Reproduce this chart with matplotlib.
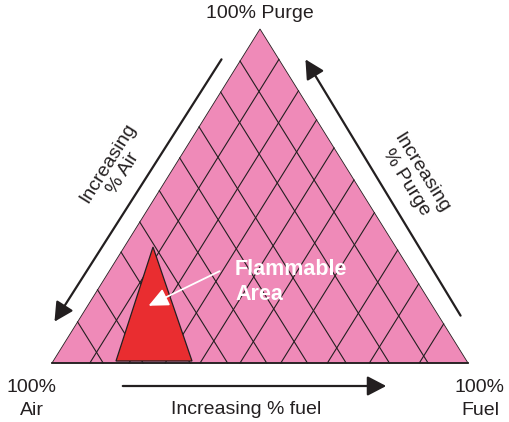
import matplotlib.pyplot as plt
from matplotlib.patches import Polygon

plt.rcParams['font.family'] = ['Liberation Sans', 'DejaVu Sans']

# triangle corners (pixel-like units, y pointing down)
corners_x = [52, 468, 260]
corners_y = [363, 363, 29]

# grid lines: fraction along the left and right edges where they start
left_edge_fracs = [0.904, 0.811, 0.707, 0.614, 0.516, 0.422, 0.332, 0.219, 0.123]
right_edge_fracs = [0.909, 0.815, 0.728, 0.644, 0.548, 0.450, 0.338, 0.237, 0.117]

# flammable region
flam_x = [116, 192, 153]
flam_y = [361, 361, 247]

ink = '#231f20'

fig = plt.figure(figsize=(5.09, 4.22), dpi=100)
ax = fig.add_axes([0, 0, 1, 1])
ax.set_xlim(0, 509)
ax.set_ylim(422, 0)
ax.axis('off')

bl = (corners_x[0], corners_y[0])
br = (corners_x[1], corners_y[1])
top = (corners_x[2], corners_y[2])
width = br[0] - bl[0]

ax.add_patch(Polygon(list(zip(corners_x, corners_y)), closed=True,
                     facecolor='#ef8ab8', edgecolor=ink, lw=0.6, zorder=1))

# grid lines parallel to the right side
for t in left_edge_fracs:
    x0 = bl[0] + t * (top[0] - bl[0])
    y0 = bl[1] + t * (top[1] - bl[1])
    ax.plot([x0, bl[0] + t * width], [y0, bl[1]], color=ink, lw=0.8, zorder=2)

# grid lines parallel to the left side
for u in right_edge_fracs:
    x0 = br[0] + u * (top[0] - br[0])
    y0 = br[1] + u * (top[1] - br[1])
    ax.plot([x0, br[0] - u * width], [y0, br[1]], color=ink, lw=0.8, zorder=2)

ax.plot([bl[0], br[0]], [bl[1], br[1]], color=ink, lw=1.3, zorder=3)

ax.add_patch(Polygon(list(zip(flam_x, flam_y)), closed=True,
                     facecolor='#e92d30', edgecolor=ink, lw=0.9, zorder=4))

# white pointer arrow
ax.annotate('', xy=(146, 307), xytext=(222, 270),
            arrowprops=dict(arrowstyle='-|>,head_length=1.2,head_width=0.55',
                            color='white', lw=1.3, mutation_scale=10), zorder=5)
ax.text(235, 282, 'Flammable\nArea', color='white', fontsize=15.5,
        fontweight='bold', ha='left', va='center', linespacing=1.3, zorder=6)

# side arrows
arrow = dict(arrowstyle='-|>,head_length=1.15,head_width=0.6',
             color=ink, lw=1.6, mutation_scale=10)
ax.annotate('', xy=(53, 324), xytext=(223, 57), arrowprops=arrow)
ax.annotate('', xy=(304, 57), xytext=(462, 318), arrowprops=arrow)
ax.annotate('', xy=(389, 386), xytext=(120, 386), arrowprops=arrow)

# labels
ax.text(260, 14, '100% Purge', fontsize=14, color=ink, ha='center', va='center')
ax.text(32, 399, '100%\nAir', fontsize=14, color=ink, ha='center', va='center',
        linespacing=1.4)
ax.text(480, 399, '100%\nFuel', fontsize=14, color=ink, ha='center', va='center',
        linespacing=1.4)
ax.text(246, 410, 'Increasing % fuel', fontsize=14, color=ink, ha='center', va='center')
ax.text(116, 168, 'Increasing\n% Air', fontsize=14, color=ink, ha='center',
        va='center', rotation=58, rotation_mode='anchor', multialignment='center',
        linespacing=1.1)
ax.text(414, 178, 'Increasing\n% Purge', fontsize=14, color=ink, ha='center',
        va='center', rotation=-58, rotation_mode='anchor', multialignment='center',
        linespacing=1.1)

fig.savefig('out.png', dpi=100)
